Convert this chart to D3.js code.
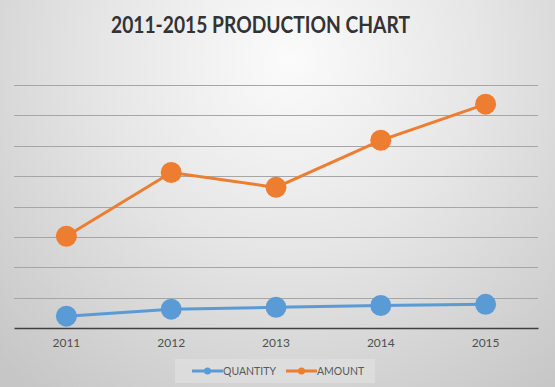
<!DOCTYPE html>
<html>
<head>
<meta charset="utf-8">
<script src="https://cdn.jsdelivr.net/npm/d3@7"></script>
<style>
  html, body { margin: 0; padding: 0; }
  body { width: 555px; height: 387px; overflow: hidden; }
  text { font-family: Lato, "Open Sans", sans-serif; }
</style>
</head>
<body>
<div id="chart"></div>
<script>
const years = ["2011", "2012", "2013", "2014", "2015"];
const quantity = [39, 62, 68, 74, 78];
const amount = [302, 512, 463, 618, 737];
const yTicks = [0, 100, 200, 300, 400, 500, 600, 700, 800];
const seriesNames = ["QUANTITY", "AMOUNT"];
const seriesColors = ["#5b9bd5", "#ed7d31"];

const W = 555, H = 387;
const margin = { top: 85, right: 17, bottom: 59, left: 14 };
const width = W - margin.left - margin.right,
    height = H - margin.top - margin.bottom;

const svg = d3.select("#chart").append("svg")
    .attr("width", W)
    .attr("height", H);

// background gradient
const defs = svg.append("defs");
const grad = defs.append("radialGradient")
    .attr("id", "bg")
    .attr("gradientUnits", "userSpaceOnUse")
    .attr("cx", 290).attr("cy", 60)
    .attr("r", 420);
grad.append("stop").attr("offset", "0%").attr("stop-color", "#fbfbfb");
grad.append("stop").attr("offset", "45%").attr("stop-color", "#e6e6e6");
grad.append("stop").attr("offset", "100%").attr("stop-color", "#c6c6c6");

svg.append("rect")
    .attr("width", W).attr("height", H)
    .attr("fill", "url(#bg)");

svg.append("text")
    .attr("x", W / 2 - 17)
    .attr("y", 33)
    .attr("text-anchor", "middle")
    .attr("font-size", 22)
    .attr("font-weight", "bold")
    .attr("fill", "#333333")
    .attr("textLength", 299)
    .attr("lengthAdjust", "spacingAndGlyphs")
    .text("2011-2015 PRODUCTION CHART");

const g = svg.append("g")
    .attr("transform", "translate(" + margin.left + "," + margin.top + ")");

const x = d3.scaleBand().domain(years).range([0, width]);
const y = d3.scaleLinear().domain([0, 800]).range([height, 0]);

// gridlines
g.selectAll(".grid").data(yTicks.slice(1)).enter()
    .append("line")
    .attr("class", "grid")
    .attr("x1", 0).attr("x2", width)
    .attr("y1", d => Math.round(y(d)) + 0.5)
    .attr("y2", d => Math.round(y(d)) + 0.5)
    .attr("stroke", "#a6a6a6")
    .attr("stroke-width", 1);

// x axis
const xAxis = g.append("g")
    .attr("transform", "translate(0," + height + ")")
    .call(d3.axisBottom(x).tickSize(0).tickPadding(10));
xAxis.select(".domain").attr("stroke", "#404040").attr("stroke-width", 1.5);
xAxis.selectAll("text")
    .attr("font-family", "Lato, 'Open Sans', sans-serif")
    .attr("font-size", 12)
    .attr("fill", "#505050");

const cx = d => x(d) + x.bandwidth() / 2;
const line = d3.line()
    .x((d, i) => cx(years[i]))
    .y(d => y(d));

[quantity, amount].forEach((data, s) => {
    g.append("path")
        .datum(data)
        .attr("d", line)
        .attr("fill", "none")
        .attr("stroke", seriesColors[s])
        .attr("stroke-width", 3);
    g.selectAll(".pt" + s).data(data).enter()
        .append("circle")
        .attr("class", "pt" + s)
        .attr("cx", (d, i) => cx(years[i]))
        .attr("cy", d => y(d))
        .attr("r", 10.5)
        .attr("fill", seriesColors[s]);
});

// legend
const legend = svg.append("g").attr("transform", "translate(175,359)");
legend.append("rect")
    .attr("width", 200).attr("height", 24)
    .attr("fill", "#dedede").attr("opacity", 0.8);
const legendX = [17, 111];
seriesNames.forEach((name, s) => {
    const item = legend.append("g").attr("transform", "translate(" + legendX[s] + ",12)");
    item.append("line")
        .attr("x1", 0).attr("x2", 31)
        .attr("stroke", seriesColors[s]).attr("stroke-width", 3);
    item.append("circle").attr("cx", 15.5).attr("r", 3.5).attr("fill", seriesColors[s]);
    item.append("text")
        .attr("x", 31).attr("y", 4)
        .attr("font-family", "'Liberation Sans', Arial, sans-serif")
        .attr("font-size", 10.5)
        .attr("fill", "#595959")
        .text(name);
});
</script>
</body>
</html>
